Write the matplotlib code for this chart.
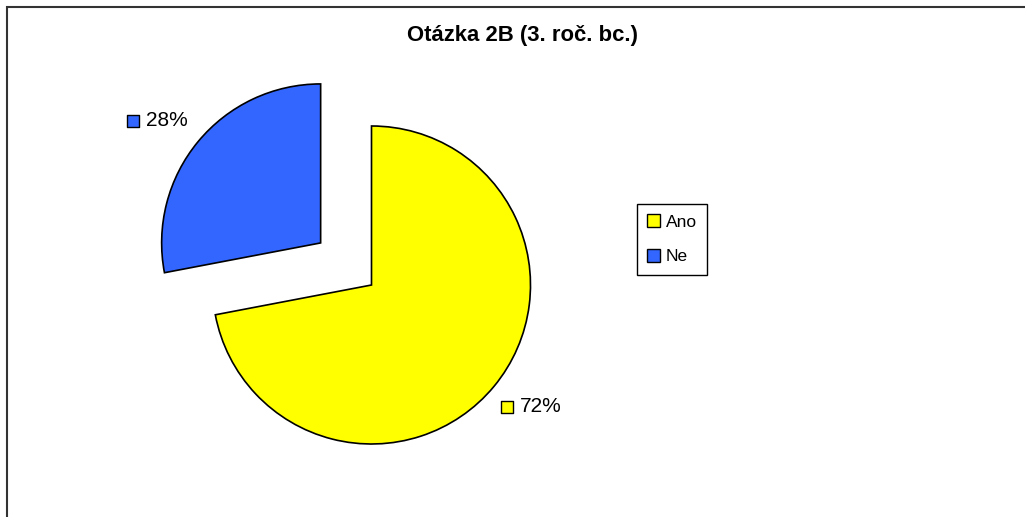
import matplotlib.pyplot as plt
from matplotlib.patches import Patch, Rectangle

plt.rcParams["font.family"] = ["Liberation Sans", "DejaVu Sans"]

title = "Otázka 2B (3. roč. bc.)"
categories = ["Ano", "Ne"]
values = [72, 28]
colors = ["#FFFF00", "#3366FF"]

W, H = 1025, 517


def py(y):
    # pixel row (from top) -> data y (from bottom)
    return H - y


fig = plt.figure(figsize=(W / 100, H / 100), dpi=100)
ax = fig.add_axes([0, 0, 1, 1])

ax.pie(values, colors=colors, startangle=90, counterclock=False,
       center=(371.5, py(285)), radius=159, explode=[0, 66],
       wedgeprops=dict(edgecolor="black", linewidth=1.2))

ax.set_xlim(0, W)
ax.set_ylim(0, H)
ax.set_aspect("equal")
ax.axis("off")

# percentage labels with colour keys
label_pos = [(507, 407), (133, 121)]
for (x, y), v, c in zip(label_pos, values, colors):
    ax.scatter([x], [py(y)], s=80, marker="s", color=c, edgecolor="black",
               linewidth=1.0, zorder=5)
    ax.text(x + 13, py(y), f"{v}%", fontsize=15, va="center", ha="left",
            color="black")

ax.text(522.5, py(35), title, fontsize=15.9, fontweight="bold",
        ha="center", va="center")

handles = [Patch(facecolor=c, edgecolor="black", linewidth=1.0) for c in colors]
leg = fig.legend(handles, categories, loc="upper left",
                 bbox_to_anchor=(637 / W, 1 - 204 / H), borderaxespad=0,
                 fontsize=12.5, frameon=True, fancybox=False, framealpha=1,
                 handlelength=0.75, handleheight=0.75, handletextpad=0.3,
                 labelspacing=1.1, borderpad=0.6)
leg.get_frame().set_edgecolor("black")
leg.get_frame().set_linewidth(1.0)

# outer chart border (right and bottom fall outside the image)
fig.patches.append(Rectangle((7 / W, -0.1), 1.2, 1 - 7 / H + 0.1,
                             transform=fig.transFigure, fill=False,
                             edgecolor="#333333", linewidth=1.5))

fig.savefig("out.png", dpi=100)
